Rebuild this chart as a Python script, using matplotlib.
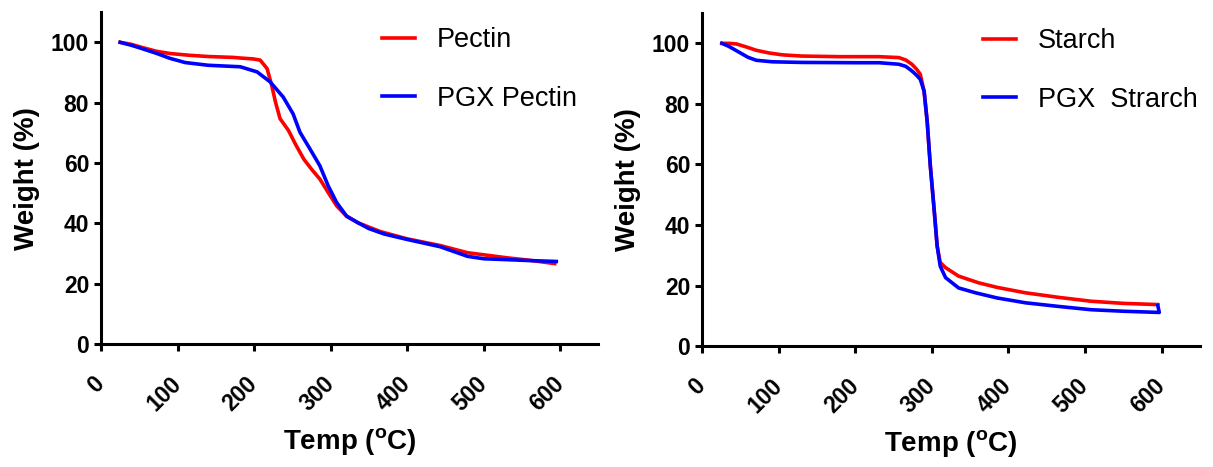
import matplotlib
matplotlib.use("Agg")
import matplotlib.pyplot as plt

plt.rcParams['font.family'] = ['Liberation Sans', 'DejaVu Sans']
plt.rcParams['mathtext.fontset'] = 'custom'
plt.rcParams['mathtext.rm'] = 'Liberation Sans:bold'
plt.rcParams['mathtext.bf'] = 'Liberation Sans:bold'

# TGA curves, temperature in deg C and remaining weight in %
pectin_t = [25, 40, 55, 73, 90, 116, 140, 173, 182, 199, 208, 217, 223, 228, 234, 245,
            254, 265, 275, 286, 297, 308, 321, 336, 365, 400, 443, 479, 531, 560, 593]
pectin_w = [100, 99.3, 98.2, 97, 96.3, 95.7, 95.3, 95, 94.8, 94.5, 94.1, 91.3, 85.8, 80.2, 74.7, 70.8,
            66.3, 61.3, 58, 54.7, 50.2, 45.8, 42.4, 40.2, 37.3, 34.9, 32.7, 30.3, 28.6, 27.8, 26.7]

pgx_pectin_t = [25, 40, 55, 73, 90, 110, 140, 182, 204, 221, 238, 251, 260, 273, 286,
                297, 308, 321, 336, 350, 370, 400, 443, 479, 500, 531, 560, 595]
pgx_pectin_w = [100, 99, 97.8, 96.3, 94.7, 93.3, 92.4, 91.9, 90.2, 86.9, 81.9, 76.3, 70.2, 64.7, 59.1,
                52.4, 46.9, 42.4, 40.2, 38.3, 36.5, 34.7, 32.3, 29.1, 28.3, 28, 27.7, 27.4]

starch_t = [26, 35, 45, 58, 71, 88, 105, 130, 180, 231, 257, 266, 274, 280, 285, 290,
            294, 298, 303, 307, 311, 318, 335, 361, 385, 422, 465, 508, 550, 595]
starch_w = [100, 100, 99.8, 98.8, 97.7, 96.8, 96.2, 95.8, 95.6, 95.6, 95.3, 94.5, 93.1, 91.5, 89.8, 84,
            74.2, 59.8, 45.3, 33.1, 27.6, 25.9, 23.1, 20.9, 19.4, 17.6, 16.1, 14.8, 14.1, 13.7]

pgx_starch_t = [26, 35, 49, 60, 71, 92, 130, 200, 231, 257, 266, 274, 280, 285, 290, 294,
                298, 303, 307, 311, 318, 335, 357, 385, 422, 465, 508, 550, 597, 595]
pgx_starch_w = [100, 99, 97, 95.4, 94.4, 93.9, 93.7, 93.6, 93.6, 93.1, 92.4, 90.9, 89.5, 88.1, 84.2, 74.2,
                59.8, 45.3, 33.1, 26.4, 22.6, 19.2, 17.6, 15.9, 14.3, 13.1, 12, 11.5, 11.1, 13.4]

panels = [
    (pectin_t, pectin_w, "Pectin", pgx_pectin_t, pgx_pectin_w, "PGX Pectin"),
    (starch_t, starch_w, "Starch", pgx_starch_t, pgx_starch_w, "PGX  Strarch"),
]

fig = plt.figure(figsize=(12.13, 4.67), dpi=100)
ax_pos = [[0.0833, 0.263, 0.410, 0.711],
          [0.5787, 0.259, 0.4105, 0.713]]

for pos, (t1, w1, l1, t2, w2, l2) in zip(ax_pos, panels):
    ax = fig.add_axes(pos)
    ax.plot(t1, w1, color='#ff0000', lw=2.6, label=l1)
    ax.plot(t2, w2, color='#0000ff', lw=2.6, label=l2)
    ax.set_xlim(0, 650)
    ax.set_ylim(0, 110)
    ax.set_xticks(range(0, 601, 100))
    ax.set_yticks(range(0, 101, 20))
    for s in ['top', 'right']:
        ax.spines[s].set_visible(False)
    for s in ['left', 'bottom']:
        ax.spines[s].set_linewidth(2.2)
    ax.tick_params(width=2.2, length=5, labelsize=16.5)
    for lab in ax.get_yticklabels():
        lab.set_fontweight('bold')
    for lab in ax.get_xticklabels():
        lab.set_fontweight('bold')
        lab.set_rotation(45)
        lab.set_ha('right')
        lab.set_va('center')
        lab.set_rotation_mode('anchor')
    ax.xaxis.set_tick_params(pad=21)
    ax.set_xlabel(r'Temp ($^\mathbf{o}$C)', fontsize=20, fontweight='bold', labelpad=8)
    ax.set_ylabel('Weight (%)', fontsize=20, fontweight='bold', labelpad=8)
    ax.legend(loc='upper left', bbox_to_anchor=(0.565, 0.955), frameon=False,
              fontsize=19.5, handlelength=1.22, handletextpad=0.8, labelspacing=1.2,
              borderpad=0, borderaxespad=0)

fig.savefig("out.png", dpi=100)
